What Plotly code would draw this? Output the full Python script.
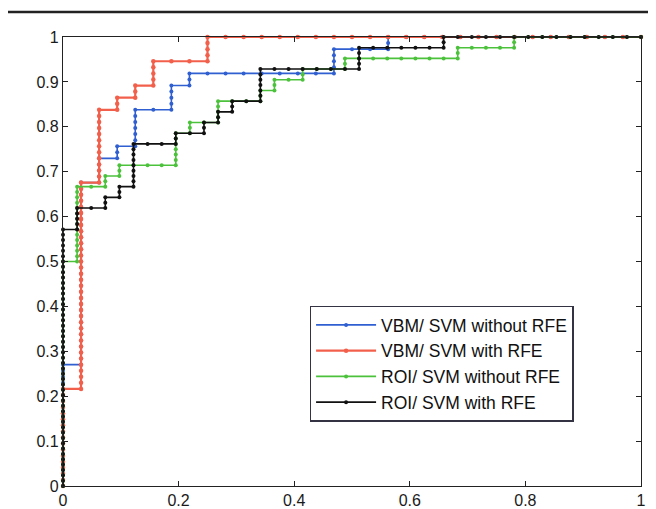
import plotly.graph_objects as go

# ---- data (ROC corner points, in sample counts) ----
vbm_neg_total = 32
vbm_pos_total = 74
roi_neg_total = 41
roi_pos_total = 84

vbm_norfe_fp = [0, 0, 1, 1, 2, 2, 3, 3, 4, 4, 6, 6, 7, 7, 15, 15, 18, 18, 32]
vbm_norfe_tp = [0, 20, 20, 50, 50, 54, 54, 56, 56, 62, 62, 66, 66, 68, 68, 72, 72, 74, 74]

vbm_rfe_fp = [0, 0, 1, 1, 2, 2, 3, 3, 4, 4, 5, 5, 8, 8, 32]
vbm_rfe_tp = [0, 16, 16, 50, 50, 62, 62, 64, 64, 66, 66, 70, 70, 74, 74]

roi_norfe_fp = [0, 0, 1, 1, 3, 3, 4, 4, 8, 8, 9, 9, 11, 11, 14, 14, 15, 15, 17, 17, 20, 20, 28, 28, 32, 32, 41]
roi_norfe_tp = [0, 42, 42, 56, 56, 58, 58, 60, 60, 66, 66, 68, 68, 72, 72, 74, 74, 76, 76, 78, 78, 80, 80, 82, 82, 84, 84]

roi_rfe_fp = [0, 0, 1, 1, 3, 3, 4, 4, 5, 5, 8, 8, 10, 10, 11, 11, 12, 12, 14, 14, 21, 21, 27, 27, 41]
roi_rfe_tp = [0, 48, 48, 52, 52, 54, 54, 56, 56, 64, 64, 66, 66, 68, 68, 70, 70, 72, 72, 78, 78, 82, 82, 84, 84]

names = ["VBM/ SVM without RFE", "VBM/ SVM with RFE", "ROI/ SVM without RFE", "ROI/ SVM with RFE"]
colors = ["#2f5fd0", "#f2604c", "#4cc23c", "#111111"]

x_tickvals = [0, 0.2, 0.4, 0.6, 0.8, 1]
x_ticktext = ["0", "0.2", "0.4", "0.6", "0.8", "1"]
y_tickvals = [0, 0.1, 0.2, 0.3, 0.4, 0.5, 0.6, 0.7, 0.8, 0.9, 1]
y_ticktext = ["0", "0.1", "0.2", "0.3", "0.4", "0.5", "0.6", "0.7", "0.8", "0.9", "1"]


def roc_points(fp, tp, n_neg, n_pos):
    """Walk the ranked sample sequence: one ROC point per sample (threshold)."""
    xs, ys = [fp[0] / n_neg], [tp[0] / n_pos]
    for i in range(1, len(fp)):
        a, b = fp[i - 1], tp[i - 1]
        c, d = fp[i], tp[i]
        while (a, b) != (c, d):
            if a < c:
                a += 1
            elif b < d:
                b += 1
            xs.append(a / n_neg)
            ys.append(b / n_pos)
    return xs, ys


curves = [
    (vbm_norfe_fp, vbm_norfe_tp, vbm_neg_total, vbm_pos_total),
    (vbm_rfe_fp, vbm_rfe_tp, vbm_neg_total, vbm_pos_total),
    (roi_norfe_fp, roi_norfe_tp, roi_neg_total, roi_pos_total),
    (roi_rfe_fp, roi_rfe_tp, roi_neg_total, roi_pos_total),
]

fig = go.Figure()
for (fp, tp, nn, npos), name, col in zip(curves, names, colors):
    xs, ys = roc_points(fp, tp, nn, npos)
    width = 2.2 if col == "#f2604c" else 1.6
    fig.add_trace(go.Scatter(
        x=xs, y=ys, mode="lines+markers", name=name,
        line=dict(color=col, width=width),
        marker=dict(color=col, size=4.5 if col == "#f2604c" else 4),
        cliponaxis=False,
    ))

axis_common = dict(
    showgrid=False, zeroline=False, showline=True, linecolor="#222", linewidth=1.2,
    mirror="ticks", ticks="inside", ticklen=5, tickcolor="#222", tickwidth=1,
    automargin=False,
    tickfont=dict(family="Liberation Sans, Arial, sans-serif", size=16, color="#1a1a1a"),
)

fig.update_xaxes(range=[0, 1], tickvals=x_tickvals, ticktext=x_ticktext, **axis_common)
fig.update_yaxes(range=[0, 1], tickvals=y_tickvals, ticktext=y_ticktext, **axis_common)

# the page body adds an 8px offset, so the figure is sized/positioned to compensate
fig.update_layout(
    template="none",
    width=648, height=501,
    margin=dict(l=55, r=15, t=29, b=23, autoexpand=False),
    paper_bgcolor="white", plot_bgcolor="white",
    showlegend=True,
    legend=dict(
        x=0.4266, y=0.402, xanchor="left", yanchor="top",
        bgcolor="white", bordercolor="#334", borderwidth=1.5,
        itemwidth=60,
        font=dict(family="Liberation Sans, Arial, sans-serif", size=17.5, color="#111"),
    ),
    shapes=[dict(type="line", xref="paper", yref="paper",
                 x0=-0.1, x1=1.03, y0=1.0557, y1=1.0557,
                 line=dict(color="#222", width=2.5))],
)

fig.write_html("out.html")
